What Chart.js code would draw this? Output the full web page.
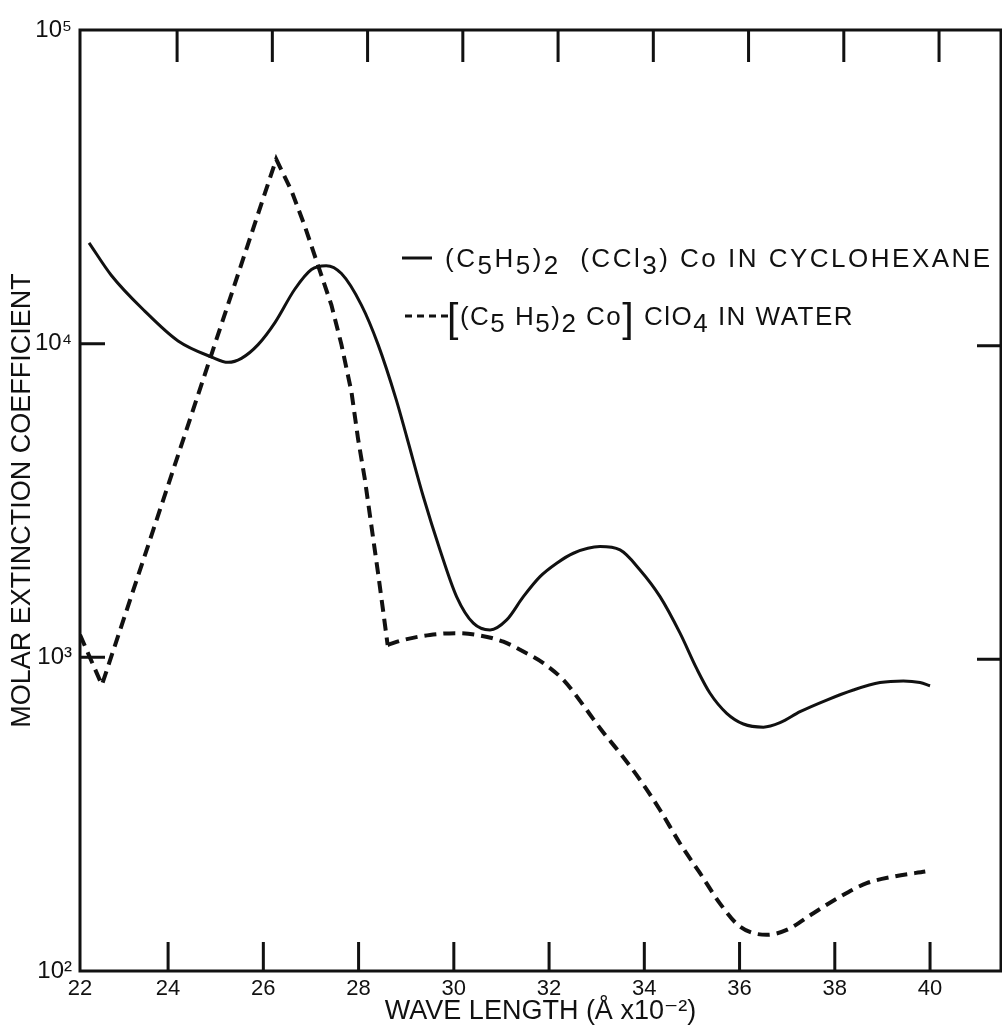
<!DOCTYPE html>
<html><head><meta charset="utf-8">
<script src="https://cdn.jsdelivr.net/npm/chart.js@4.4.1/dist/chart.umd.min.js"></script>
<style>html,body{margin:0;padding:0;background:#fff;}#wrap{width:1002px;height:1030px;}</style>
</head><body><div id="wrap"><canvas id="c" width="1002" height="1030"></canvas></div>
<script>
// ---- data ----
const xTickValues = [22, 24, 26, 28, 30, 32, 34, 36, 38, 40];
const xTickLabels = ['22', '24', '26', '28', '30', '32', '34', '36', '38', '40'];
const yTickValues = [100, 1000, 10000, 100000];
const yTickLabels = ['10²', '10³', '10⁴', '10⁵'];
const innerYTickValues = [1000, 10000];
const xAxisTitle = 'WAVE LENGTH (Å x10⁻²)';
const yAxisTitle = 'MOLAR EXTINCTION COEFFICIENT';

const solidX = [22.34, 22.81, 23.51, 24.21, 24.91, 25.26, 25.54, 25.89, 26.24, 26.66, 27.01, 27.32, 27.64, 28.06, 28.41, 28.79, 29.01, 29.36, 29.71, 30.06, 30.41, 30.76, 31.11, 31.46, 31.81, 32.16, 32.51, 33.07, 33.49, 33.91, 34.33, 34.75, 35.10, 35.38, 35.73, 36.08, 36.50, 36.85, 37.27, 37.83, 38.39, 38.95, 39.44, 39.79, 40.00];
const solidY = [20970, 16500, 12700, 10200, 9070, 8720, 8980, 9930, 11650, 14910, 17230, 17730, 16730, 13270, 9930, 6630, 5050, 3250, 2200, 1560, 1285, 1223, 1316, 1561, 1808, 1995, 2147, 2254, 2200, 1899, 1561, 1194, 920, 768, 663, 613, 599, 619, 671, 731, 787, 831, 841, 831, 812];

const dashedX = [22.15, 22.61, 26.27, 26.59, 26.87, 27.15, 27.43, 27.64, 27.85, 27.99, 28.13, 28.27, 28.41, 28.52, 28.61, 28.94, 29.50, 30.06, 30.48, 31.04, 31.46, 31.88, 32.30, 32.79, 33.07, 33.49, 33.91, 34.33, 34.75, 35.17, 35.59, 36.01, 36.57, 36.99, 37.55, 38.11, 38.67, 39.23, 39.90];
const dashedY = [1180, 817, 38740, 30740, 23700, 17730, 13270, 9930, 7020, 4960, 3710, 2620, 1850, 1390, 1095, 1136, 1179, 1194, 1179, 1122, 1043, 958, 847, 680, 594, 495, 407, 326, 255, 205, 164, 138.5, 130.4, 135.2, 152.8, 172.6, 190.5, 200, 207.5];
// index of the sharp corner where the dashed curve turns from the steep drop to the smooth arc
const dashedCornerIndex = 14;

// legend text pieces: [text, kind]
const legendSolid = [['(C'], ['5', 'sub'], ['H'], ['5', 'sub'], [')'], ['2', 'sub'], ['  (CCl'], ['3', 'sub'], [') Co IN CYCLOHEXANE']];
const legendDashed = [['[', 'br'], ['(C'], ['5', 'sub'], [' H'], ['5', 'sub'], [')'], ['2', 'sub'], [' Co'], [']', 'br'], [' ClO'], ['4', 'sub'], [' IN WATER']];

const INK = '#111';
const FONT = "'Liberation Sans', 'DejaVu Sans', sans-serif";

const toPts = (xs, ys) => xs.map((x, i) => ({x, y: ys[i]}));
const dashedPts = toPts(dashedX, dashedY);

function drawRich(ctx, x, base, segs, size) {
  for (const [t, kind] of segs) {
    let dy = 0, s = size;
    if (kind === 'sub') dy = 7;
    if (kind === 'br') { s = 41; dy = 7; }
    ctx.font = s + 'px ' + FONT;
    ctx.fillText(t, x, base + dy);
    x += ctx.measureText(t).width;
  }
  return x;
}

const framePlugin = {
  id: 'frame',
  afterDraw(chart) {
    const {ctx, chartArea: a, scales: {x, y}} = chart;
    ctx.save();
    ctx.strokeStyle = INK;
    ctx.lineWidth = 3;
    ctx.strokeRect(a.left, a.top, a.right - a.left, a.bottom - a.top);
    ctx.beginPath();
    xTickValues.forEach(v => {
      if (v <= x.min || v >= x.max) return;
      const px = x.getPixelForValue(v);
      ctx.moveTo(px, a.bottom); ctx.lineTo(px, a.bottom - 29);
      ctx.moveTo(px + 9, a.top); ctx.lineTo(px + 9, a.top + 32);
    });
    innerYTickValues.forEach(v => {
      const py = y.getPixelForValue(v);
      ctx.moveTo(a.left, py); ctx.lineTo(a.left + 25, py);
      ctx.moveTo(a.right, py + 2); ctx.lineTo(a.right - 24, py + 2);
    });
    ctx.stroke();

    // legend
    ctx.fillStyle = INK;
    ctx.textBaseline = 'alphabetic';
    const y1 = 258, y2 = 316;
    ctx.lineWidth = 3;
    ctx.beginPath(); ctx.moveTo(402, y1); ctx.lineTo(432, y1); ctx.stroke();
    ctx.letterSpacing = '2.5px';
    drawRich(ctx, 445, y1 + 9, legendSolid, 26);
    ctx.setLineDash([7, 5]);
    ctx.beginPath(); ctx.moveTo(405, y2); ctx.lineTo(452, y2); ctx.stroke();
    ctx.setLineDash([]);
    ctx.letterSpacing = '1.5px';
    drawRich(ctx, 447, y2 + 9, legendDashed, 26);
    ctx.restore();
  }
};

new Chart(document.getElementById('c'), {
  type: 'line',
  data: {
    datasets: [
      {
        label: '(C5H5)2 (CCl3) Co IN CYCLOHEXANE',
        data: toPts(solidX, solidY),
        borderColor: INK, borderWidth: 3, pointRadius: 0,
        cubicInterpolationMode: 'monotone', fill: false
      },
      {
        label: '[(C5H5)2 Co] ClO4 IN WATER',
        data: dashedPts.slice(0, dashedCornerIndex + 1),
        borderColor: INK, borderWidth: 4, borderDash: [12, 7], pointRadius: 0,
        tension: 0, fill: false
      },
      {
        label: '[(C5H5)2 Co] ClO4 IN WATER (cont.)',
        data: dashedPts.slice(dashedCornerIndex),
        borderColor: INK, borderWidth: 4, borderDash: [12, 7], pointRadius: 0,
        cubicInterpolationMode: 'monotone', fill: false
      }
    ]
  },
  options: {
    responsive: false, animation: false, devicePixelRatio: 1,
    layout: {padding: {top: 30, right: 1, left: 0, bottom: 0}},
    plugins: {legend: {display: false}, tooltip: {enabled: false}},
    scales: {
      x: {
        type: 'linear', min: 22.15, max: 41.49,
        afterFit: s => { s.height = 59; },
        afterBuildTicks: s => { s.ticks = xTickValues.map(v => ({value: Math.max(v, s.min)})); },
        grid: {display: false, drawTicks: false},
        border: {display: false},
        ticks: {
          color: INK, padding: 5, maxRotation: 0, autoSkip: false,
          font: {family: FONT, size: 22},
          callback: (v, i) => xTickLabels[i]
        },
        title: {display: true, text: xAxisTitle, color: INK, font: {family: FONT, size: 27}, padding: {top: 0, bottom: 2}}
      },
      y: {
        type: 'logarithmic', min: 100, max: 100000,
        afterFit: s => { s.width = 80; },
        afterBuildTicks: s => { s.ticks = yTickValues.map(v => ({value: v})); },
        grid: {display: false, drawTicks: false},
        border: {display: false},
        ticks: {
          color: INK, padding: 8, autoSkip: false,
          font: {family: FONT, size: 24},
          callback: (v, i) => yTickLabels[i]
        },
        title: {display: true, text: yAxisTitle, color: INK, font: {family: FONT, size: 27}, padding: {top: 6, bottom: 0}}
      }
    }
  },
  plugins: [framePlugin]
});
</script></body></html>
